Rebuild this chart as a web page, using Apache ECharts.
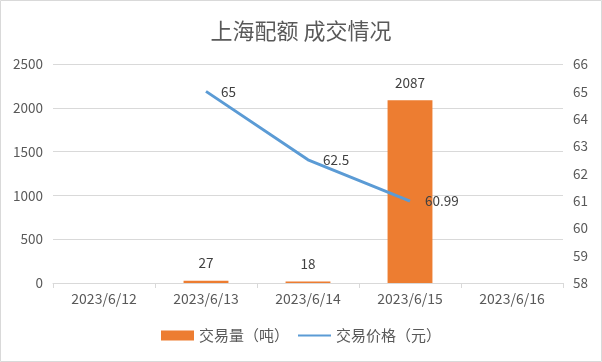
<!DOCTYPE html>
<html><head><meta charset="utf-8">
<script src="https://cdn.jsdelivr.net/npm/echarts@6/dist/echarts.min.js"></script>
<style>html,body{margin:0;padding:0;background:#fff}#c{width:602px;height:362px}</style>
</head><body><div id="c"></div>
<script>
const categories = ['2023/6/12','2023/6/13','2023/6/14','2023/6/15','2023/6/16'];
const volume = [null, 27, 18, 2087, null];
const price = [null, 65, 62.5, 60.99, null];
const volumeName = '交易量（吨）';
const priceName = '交易价格（元）';
const titleText = '上海配额 成交情况';

const font = '"Noto Sans CJK SC", "Microsoft YaHei", sans-serif';
const chart = echarts.init(document.getElementById('c'));
chart.setOption({
  animation: false,
  textStyle: {fontFamily: font},
  title: {text: titleText, left: 'center', top: 15, textStyle: {fontSize: 22, fontWeight: 'normal', color: '#595959', fontFamily: font}},
  graphic: [{type: 'rect', shape: {x: 0.5, y: 0.5, width: 601, height: 361}, style: {fill: 'none', stroke: '#d9d9d9', lineWidth: 1}, silent: true}],
  legend: {bottom: 14, left: 'center', itemGap: 8, itemWidth: 33, itemHeight: 10,
    textStyle: {fontSize: 15, color: '#595959', fontFamily: font},
    data: [{name: volumeName, icon: 'rect'}, {name: priceName, itemStyle: {opacity: 0}}]},
  grid: {left: 53, right: 39, top: 64, bottom: 79},
  xAxis: {type: 'category', data: categories,
    axisLine: {lineStyle: {color: '#d9d9d9'}},
    axisTick: {show: true, length: 5, lineStyle: {color: '#d9d9d9'}},
    axisLabel: {color: '#595959', fontSize: 14, margin: 9}},
  yAxis: [
    {type: 'value', min: 0, max: 2500, interval: 500,
      axisLine: {show: false}, axisTick: {show: false},
      splitLine: {lineStyle: {color: '#d9d9d9'}},
      axisLabel: {color: '#595959', fontSize: 13.5, margin: 10, formatter: v => String(v)}},
    {type: 'value', min: 58, max: 66, interval: 1,
      axisLine: {show: false}, axisTick: {show: false}, splitLine: {show: false},
      axisLabel: {color: '#595959', fontSize: 13.5, margin: 10}}
  ],
  series: [
    {name: volumeName, type: 'bar', data: volume, barWidth: '44%', itemStyle: {color: '#ed7d31'},
      label: {show: true, position: 'top', color: '#404040', fontSize: 13.5, distance: 11}},
    {name: priceName, type: 'line', yAxisIndex: 1, data: price, symbol: 'circle', symbolSize: 0.01, connectNulls: false,
      lineStyle: {color: '#5b9bd5', width: 3}, itemStyle: {color: '#5b9bd5'},
      label: {show: true, position: 'right', color: '#404040', fontSize: 13.5, distance: 15}}
  ]
});
</script></body></html>
